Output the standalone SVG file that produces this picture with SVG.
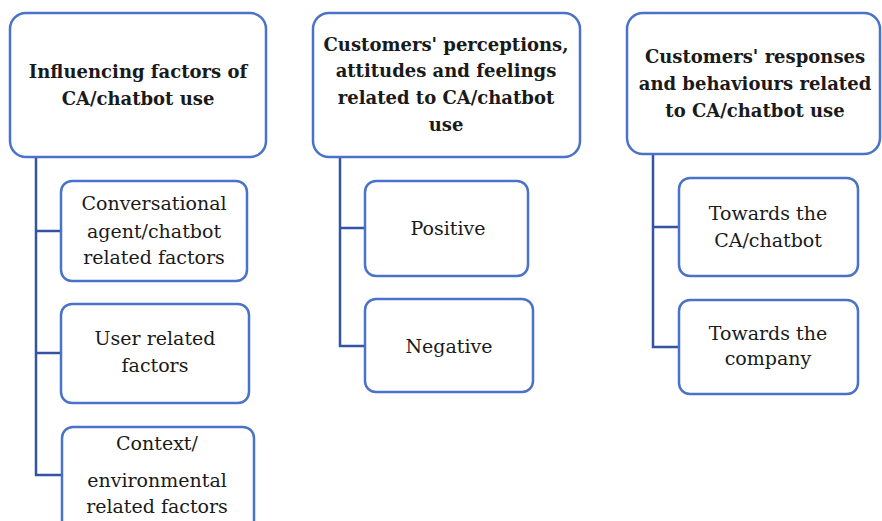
<svg xmlns="http://www.w3.org/2000/svg" width="882" height="521" viewBox="0 0 882 521">
<style>
.box{fill:#fff;stroke:#4a72c8;stroke-width:2.5}
.con{fill:none;stroke:#3553a3;stroke-width:2.5}
text{font-family:"DejaVu Serif","Liberation Serif",serif;fill:#1a1a1a;text-anchor:middle}
.h{font-weight:bold;font-size:18px}
.b{font-size:19px}
</style>
<rect width="882" height="521" fill="#fff"/>
<g id="connectors">
<path class="con" d="M36 157V475H62M36 231H61M36 353H61"/>
<path class="con" d="M340 157V346H365M340 228H365"/>
<path class="con" d="M653 154V347H679M653 227H679"/>
</g>
<g id="n1"><rect class="box" x="10" y="13" width="256" height="144" rx="16"/>
<text class="h" x="138" y="78">Influencing factors of</text><text class="h" x="138" y="105">CA/chatbot use</text></g>
<g id="n2"><rect class="box" x="313" y="13" width="267" height="144" rx="16"/>
<text class="h" x="446" y="51">Customers' perceptions,</text><text class="h" x="446" y="77">attitudes and feelings</text><text class="h" x="446" y="104">related to CA/chatbot</text><text class="h" x="446" y="131">use</text></g>
<g id="n3"><rect class="box" x="627" y="13" width="253" height="141" rx="16"/>
<text class="h" x="755" y="63">Customers' responses</text><text class="h" x="755" y="90">and behaviours related</text><text class="h" x="755" y="117">to CA/chatbot use</text></g>
<g id="n4"><rect class="box" x="61" y="181" width="186" height="100" rx="11"/>
<text class="b" x="154" y="210">Conversational</text><text class="b" x="154" y="238">agent/chatbot</text><text class="b" x="154" y="264">related factors</text></g>
<g id="n5"><rect class="box" x="61" y="304" width="188" height="99" rx="11"/>
<text class="b" x="155" y="345">User related</text><text class="b" x="155" y="372">factors</text></g>
<g id="n6"><rect class="box" x="62" y="427" width="192" height="110" rx="11"/>
<text class="b" x="157" y="450">Context/</text><text class="b" x="157" y="487">environmental</text><text class="b" x="157" y="513">related factors</text></g>
<g id="n7"><rect class="box" x="365" y="181" width="163" height="95" rx="11"/>
<text class="b" x="448" y="235">Positive</text></g>
<g id="n8"><rect class="box" x="365" y="299" width="168" height="93" rx="11"/>
<text class="b" x="449" y="353">Negative</text></g>
<g id="n9"><rect class="box" x="679" y="178" width="179" height="98" rx="11"/>
<text class="b" x="768" y="220">Towards the</text><text class="b" x="768" y="247">CA/chatbot</text></g>
<g id="n10"><rect class="box" x="679" y="300" width="179" height="94" rx="11"/>
<text class="b" x="768" y="340">Towards the</text><text class="b" x="768" y="365">company</text></g>
</svg>
